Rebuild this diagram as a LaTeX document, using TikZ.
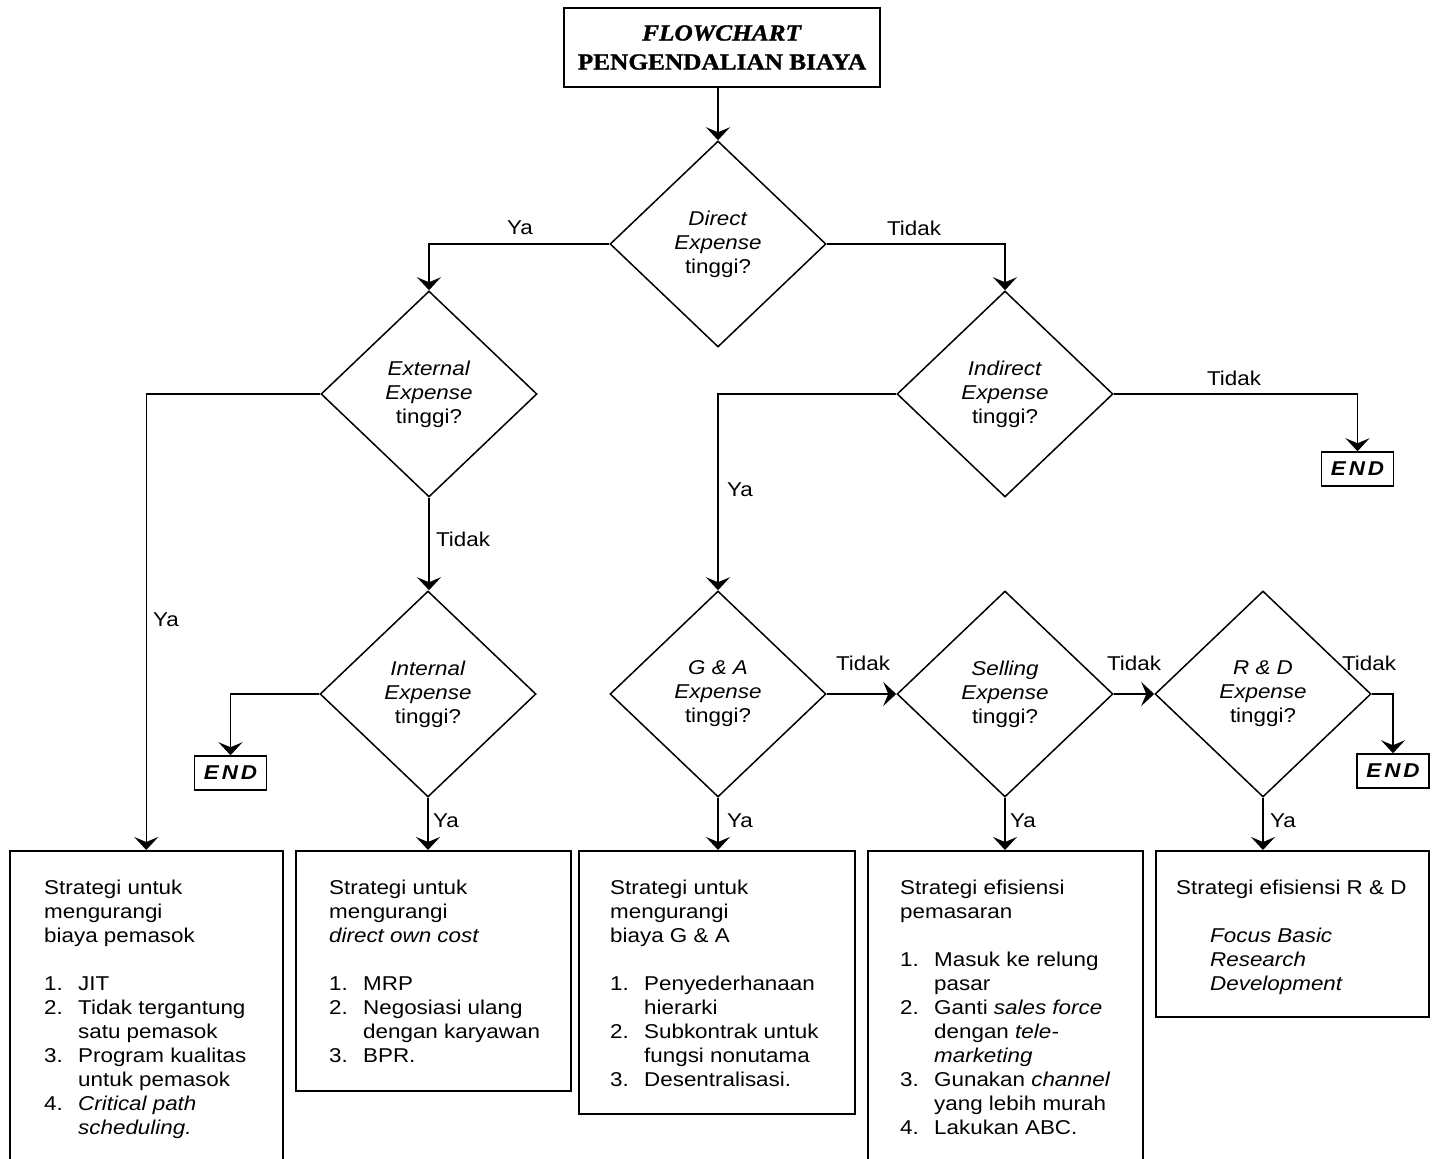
\documentclass[tikz,border=0pt]{standalone}
\usepackage{fontspec}
\setmainfont{Liberation Sans}[FakeStretch=1.12]
\newfontfamily\titlefont{Liberation Serif}[FakeStretch=1.1,FakeBold=1.2]
\usetikzlibrary{shapes.geometric,arrows.meta}
\newcommand\itm[1]{\makebox[34pt][l]{#1}}
\newcommand\ind{\hspace*{34pt}}
\begin{document}
\begin{tikzpicture}[x=1pt,y=-1pt,
  every node/.style={font=\fontsize{20}{24}\selectfont},
  dec/.style={diamond, draw, line width=1.5pt, minimum width=216pt, minimum height=206pt, inner sep=0pt, align=center},
  arr/.style={line width=1.5pt, -{Stealth[length=13pt,width=24pt,inset=5pt]}},
  endbox/.style={draw, line width=1.5pt, minimum width=72pt, minimum height=34pt, inner sep=0pt, font=\fontsize{20}{24}\selectfont\bfseries\itshape},
  sbox/.style={draw, line width=1.5pt, anchor=north west, inner sep=0pt},
  txt/.style={anchor=north west, inner sep=0pt, align=left},
  lbl/.style={inner sep=0pt}
]
\useasboundingbox (0,0) rectangle (1436,1159);
\clip (0,0) rectangle (1436,1159);
% title
\node[draw, line width=1.5pt, minimum width=316pt, minimum height=79pt, align=center,
  font=\titlefont\bfseries\fontsize{23}{29}\selectfont] (title) at (722,47.5)
  {\textit{FLOWCHART}\\PENGENDALIAN BIAYA};
% decisions
\node[dec] (d1) at (718,244) {\textit{Direct}\\\textit{Expense}\\tinggi?};
\node[dec] (d2) at (429,394) {\textit{External}\\\textit{Expense}\\tinggi?};
\node[dec] (d3) at (1005,394) {\textit{Indirect}\\\textit{Expense}\\tinggi?};
\node[dec] (d4) at (428,694) {\textit{Internal}\\\textit{Expense}\\tinggi?};
\node[dec] (d5) at (718,694) {\textit{G \& A}\\\textit{Expense}\\tinggi?};
\node[dec] (d6) at (1005,694) {\textit{Selling}\\\textit{Expense}\\tinggi?};
\node[dec] (d7) at (1263,694) {\textit{R \& D}\\\textit{Expense}\\tinggi?};
% end boxes
\node[endbox] (e1) at (230.5,773) {E\hspace{3pt}N\hspace{3pt}D};
\node[endbox] (e2) at (1357.5,469) {E\hspace{3pt}N\hspace{3pt}D};
\node[endbox] (e3) at (1393,771) {E\hspace{3pt}N\hspace{3pt}D};
% strategy boxes
\node[sbox, minimum width=273pt, minimum height=340pt] (b1) at (9,850) {};
\node[sbox, minimum width=275pt, minimum height=240pt] (b2) at (295,850) {};
\node[sbox, minimum width=276pt, minimum height=263pt] (b3) at (578,850) {};
\node[sbox, minimum width=275pt, minimum height=340pt] (b4) at (867,850) {};
\node[sbox, minimum width=273pt, minimum height=166pt] (b5) at (1155,850) {};
\node[txt] (t1) at (44,880) {Strategi untuk\\mengurangi\\biaya pemasok\\[24pt]
  \itm{1.}JIT\\\itm{2.}Tidak tergantung\\\ind satu pemasok\\\itm{3.}Program kualitas\\\ind untuk pemasok\\\itm{4.}\textit{Critical path}\\\ind\textit{scheduling.}};
\node[txt] (t2) at (329,880) {Strategi untuk\\mengurangi\\\textit{direct own cost}\\[24pt]
  \itm{1.}MRP\\\itm{2.}Negosiasi ulang\\\ind dengan karyawan\\\itm{3.}BPR.};
\node[txt] (t3) at (610,880) {Strategi untuk\\mengurangi\\biaya G \& A\\[24pt]
  \itm{1.}Penyederhanaan\\\ind hierarki\\\itm{2.}Subkontrak untuk\\\ind fungsi nonutama\\\itm{3.}Desentralisasi.};
\node[txt] (t4) at (900,880) {Strategi efisiensi\\pemasaran\\[24pt]
  \itm{1.}Masuk ke relung\\\ind pasar\\\itm{2.}Ganti \textit{sales force}\\\ind dengan \textit{tele-}\\\ind\textit{marketing}\\\itm{3.}Gunakan \textit{channel}\\\ind yang lebih murah\\\itm{4.}Lakukan ABC.};
\node[txt] (t5) at (1176,880) {Strategi efisiensi R \& D\\[24pt]
  \ind\textit{Focus Basic}\\\ind\textit{Research}\\\ind\textit{Development}};
% connectors
\draw[arr] (d1.north |- title.south) -- (d1.north);
\draw[arr] (d1.west) -| (d2.north);
\draw[arr] (d1.east) -| (d3.north);
\draw[arr] (d2.west) -| (b1.north);
\draw[arr] (d2.south) -- (d2.south |- d4.north);
\draw[arr] (d4.west) -| (e1.north);
\draw[arr] (d4.south) -- (d4.south |- b2.north);
\draw[arr] (d3.west) -| (d5.north);
\draw[arr] (d3.east) -| (e2.north);
\draw[arr] (d5.east) -- (d6.west);
\draw[arr] (d5.south) -- (d5.south |- b3.north);
\draw[arr] (d6.east) -- (d7.west);
\draw[arr] (d6.south) -- (d6.south |- b4.north);
\draw[arr] (d7.east) -| (e3.north);
\draw[arr] (d7.south) -- (d7.south |- b5.north);
% labels
\node[lbl] (l1) at (520,228) {Ya};
\node[lbl] (l2) at (914,228) {Tidak};
\node[lbl] (l3) at (166,620) {Ya};
\node[lbl] (l4) at (463,539) {Tidak};
\node[lbl] (l5) at (740,490) {Ya};
\node[lbl] (l6) at (1234,378) {Tidak};
\node[lbl] (l7) at (446,821) {Ya};
\node[lbl] (l8) at (863,663) {Tidak};
\node[lbl] (l9) at (740,821) {Ya};
\node[lbl] (l10) at (1134,663) {Tidak};
\node[lbl] (l11) at (1023,821) {Ya};
\node[lbl] (l12) at (1369,663) {Tidak};
\node[lbl] (l13) at (1283,821) {Ya};
\end{tikzpicture}
\end{document}
